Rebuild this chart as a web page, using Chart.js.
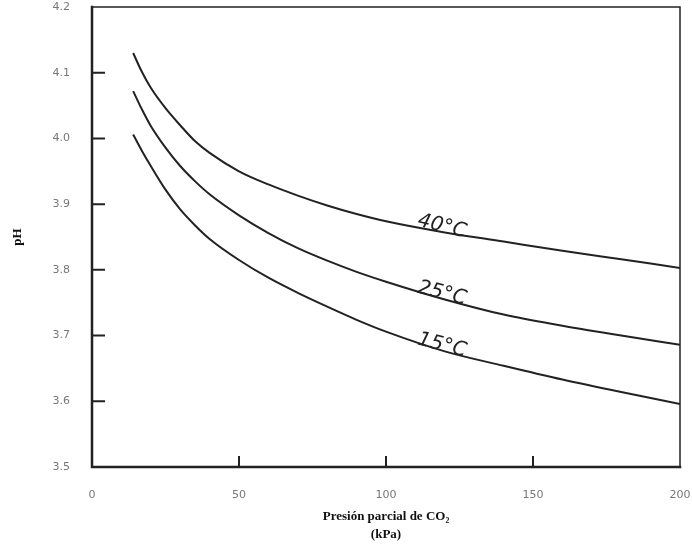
<!DOCTYPE html>
<html>
<head>
<meta charset="utf-8">
<script src="https://cdn.jsdelivr.net/npm/chart.js@4/dist/chart.umd.min.js"></script>
<style>
  html, body { margin: 0; padding: 0; background: #fff; }
  #wrap { width: 692px; height: 547px; }
</style>
</head>
<body>
<div id="wrap"><canvas id="phChart"></canvas></div>
<script>
/* pH vs presión parcial de CO2, tres temperaturas */
const pressure = [14, 17, 20, 25, 30, 35, 40, 50, 60, 70, 80, 90, 100, 120, 140, 160, 180, 200];
const ph40 = [4.130, 4.101, 4.077, 4.046, 4.020, 3.996, 3.978, 3.950, 3.930, 3.913, 3.898, 3.885, 3.874, 3.857, 3.843, 3.829, 3.816, 3.803];
const ph25 = [4.072, 4.044, 4.019, 3.986, 3.958, 3.935, 3.915, 3.883, 3.856, 3.833, 3.814, 3.797, 3.782, 3.755, 3.732, 3.715, 3.700, 3.686];
const ph15 = [4.006, 3.981, 3.958, 3.922, 3.892, 3.868, 3.847, 3.815, 3.788, 3.765, 3.744, 3.724, 3.706, 3.676, 3.654, 3.633, 3.614, 3.596];
const curveNames = ['40°C', '25°C', '15°C'];
const labelAt = 120;          // kPa where the temperature label sits
const xTicks = [0, 50, 100, 150, 200];
const yTicks = [3.5, 3.6, 3.7, 3.8, 3.9, 4.0, 4.1, 4.2];

const INK = '#222';

const toPts = ys => pressure.map((x, i) => ({ x, y: ys[i] }));

// drop the automatic edge padding so the plot box lands where layout.padding says
const noEdgePad = s => { s.paddingTop = s.paddingBottom = s.paddingLeft = s.paddingRight = 0; };

/* frame + inward tick marks */
const framePlugin = {
  id: 'frame',
  afterDatasetsDraw(chart) {
    const { ctx, chartArea: a, scales: { x, y } } = chart;
    ctx.save();
    ctx.strokeStyle = INK;
    ctx.lineCap = 'square';
    // top & right (thinner)
    ctx.lineWidth = 1.5;
    ctx.beginPath();
    ctx.moveTo(a.left, a.top); ctx.lineTo(a.right, a.top); ctx.lineTo(a.right, a.bottom);
    ctx.stroke();
    // left & bottom
    ctx.lineWidth = 2.5;
    ctx.beginPath();
    ctx.moveTo(a.left, a.top); ctx.lineTo(a.left, a.bottom); ctx.lineTo(a.right, a.bottom);
    ctx.stroke();
    // ticks
    ctx.lineWidth = 2;
    ctx.beginPath();
    yTicks.slice(1, -1).forEach(v => {
      const py = y.getPixelForValue(v);
      ctx.moveTo(a.left, py); ctx.lineTo(a.left + 12, py);
    });
    xTicks.slice(1, -1).forEach(v => {
      const px = x.getPixelForValue(v);
      ctx.moveTo(px, a.bottom); ctx.lineTo(px, a.bottom - 10);
    });
    ctx.stroke();
    ctx.restore();
  }
};

/* temperature labels written along each curve */
const curveLabels = {
  id: 'curveLabels',
  afterDatasetsDraw(chart) {
    const { ctx } = chart;
    const i = pressure.indexOf(labelAt);
    ctx.save();
    ctx.fillStyle = INK;
    ctx.font = 'italic 20px "DejaVu Sans"';
    ctx.textAlign = 'center';
    ctx.textBaseline = 'alphabetic';
    chart.data.datasets.forEach((ds, k) => {
      const pt = chart.getDatasetMeta(k).data[i];
      ctx.save();
      ctx.translate(pt.x - 4, pt.y - 1);
      ctx.rotate(14 * Math.PI / 180);
      ctx.fillText(curveNames[k], 0, 0);
      ctx.restore();
    });
    ctx.restore();
  }
};

const lineStyle = { borderColor: INK, borderWidth: 2, pointRadius: 0, fill: false, cubicInterpolationMode: 'monotone' };

new Chart(document.getElementById('phChart'), {
  type: 'line',
  data: {
    datasets: [
      { label: curveNames[0], data: toPts(ph40), ...lineStyle },
      { label: curveNames[1], data: toPts(ph25), ...lineStyle },
      { label: curveNames[2], data: toPts(ph15), ...lineStyle }
    ]
  },
  options: {
    responsive: true, maintainAspectRatio: false, animation: false,
    layout: { padding: { left: 0, right: 12, top: 7, bottom: 0 } },
    plugins: { legend: { display: false }, tooltip: { enabled: false } },
    scales: {
      x: {
        type: 'linear', min: 0, max: 200,
        afterBuildTicks: s => { s.ticks = xTicks.map(v => ({ value: v })); },
        afterFit: s => { s.height = 80; noEdgePad(s); },
        grid: { display: false, drawTicks: false },
        border: { display: false },
        ticks: { color: '#777', padding: 22, font: { family: 'DejaVu Sans', size: 11 }, maxRotation: 0 },
        title: {
          display: true, text: ['Presión parcial de CO₂', '(kPa)'], color: '#111',
          font: { family: 'Liberation Serif', size: 13, weight: 'bold', lineHeight: 1.35 }, padding: { top: 6 }
        }
      },
      y: {
        min: 3.5, max: 4.2,
        afterBuildTicks: s => { s.ticks = yTicks.map(v => ({ value: v })); },
        afterFit: s => { s.width = 92; noEdgePad(s); },
        grid: { display: false, drawTicks: false },
        border: { display: false },
        ticks: { color: '#777', padding: 22, font: { family: 'DejaVu Sans', size: 11 }, callback: v => v.toFixed(1) },
        title: {
          display: true, text: 'pH', color: '#111',
          font: { family: 'Liberation Serif', size: 13, weight: 'bold' }, padding: { top: 10, bottom: 0 }
        }
      }
    }
  },
  plugins: [framePlugin, curveLabels]
});
</script>
</body>
</html>
